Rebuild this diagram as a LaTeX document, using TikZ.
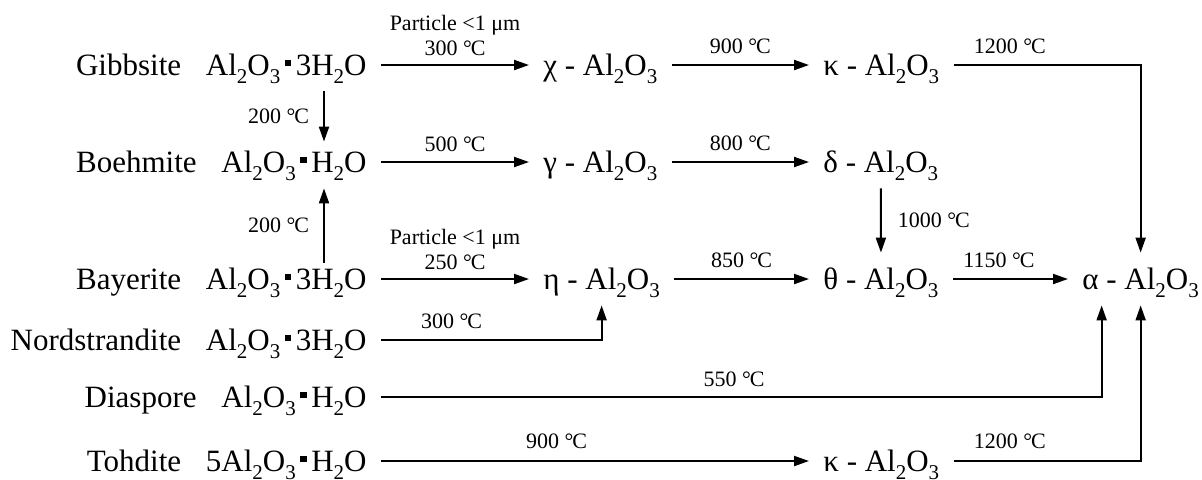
\documentclass[tikz,border=0pt]{standalone}
\usepackage{fontspec}
\setmainfont{Liberation Serif}
\usetikzlibrary{arrows.meta, positioning, calc}

\newcommand{\sub}[1]{\raisebox{-0.26em}{\fontsize{10.5}{10.5}\selectfont #1}}
\newcommand{\hdot}{\kern0.15em\rule[0.3em]{0.2em}{0.2em}\kern0.15em}
\newcommand{\degc}{°\kern-0.05em C}
\newcommand{\alu}{Al\sub{2}O\sub{3}}

\tikzset{
    chem/.style={inner xsep=7pt, inner ysep=8pt, text height=10pt, text depth=0pt, font=\fontsize{15.5}{18}\selectfont},
    mineral/.style={chem, anchor=east},
    phase/.style={chem, anchor=west},
    temp/.style={inner sep=0pt, text depth=0pt, font=\fontsize{11}{13}\selectfont},
    arrow/.style={-{Triangle[length=7.5pt, width=5pt]}, line width=1pt},
}

\begin{document}
\begin{tikzpicture}[x=0.5pt, y=-0.5pt]
\useasboundingbox (0,0) rectangle (1202,479);

% starting hydroxides
\node[mineral] (gib) at (381,65) {Gibbsite\hspace{0.8em}\alu\hdot 3H\sub{2}O};
\node[mineral] (boe) at (381,162) {Boehmite\hspace{0.8em}\alu\hdot H\sub{2}O};
\node[mineral] (bay) at (381,279) {Bayerite\hspace{0.8em}\alu\hdot 3H\sub{2}O};
\node[mineral] (nor) at (381,340) {Nordstrandite\hspace{0.8em}\alu\hdot 3H\sub{2}O};
\node[mineral] (dia) at (381,397) {Diaspore\hspace{0.8em}\alu\hdot H\sub{2}O};
\node[mineral] (toh) at (381,461) {Tohdite\hspace{0.8em}5\alu\hdot H\sub{2}O};

% transition aluminas
\node[phase] (chi) at (529,65) {χ - \alu};
\node[phase] (kap-a) at (809,65) {κ - \alu};
\node[phase] (gam) at (529,162) {γ - \alu};
\node[phase] (del) at (809,162) {δ - \alu};
\node[phase] (eta) at (529,279) {η - \alu};
\node[phase] (the) at (809,279) {θ - \alu};
\node[phase] (alp) at (1068,279) {α - \alu};
\node[phase] (kap-b) at (809,461) {κ - \alu};

\coordinate (col-a) at (324,0);

\draw[arrow] (gib.east) -- node[temp, above=4.5pt] {300 \degc} node[temp, above=17pt] {Particle <1 μm} (chi.west);
\draw[arrow] (chi.east) -- node[temp, above=5.5pt] {900 \degc} (kap-a.west);
\draw[arrow] (kap-a.east) -| node[temp, above=5.5pt, pos=0.15] {1200 \degc} (alp.north);
\draw[arrow] (gib.south -| col-a) -- node[temp, left=7pt] {200 \degc} ([yshift=-3pt]boe.north -| col-a);

\draw[arrow] (boe.east) -- node[temp, above=5pt] {500 \degc} (gam.west);
\draw[arrow] (gam.east) -- node[temp, above=5.5pt] {800 \degc} (del.west);
\draw[arrow] (del.south) -- node[temp, right=8pt] {1000 \degc} (the.north);
\draw[arrow] ([yshift=-5pt]bay.north -| col-a) -- node[temp, left=7pt] {200 \degc} (boe.south -| col-a);

\draw[arrow] (bay.east) -- node[temp, above=4.5pt] {250 \degc} node[temp, above=17pt] {Particle <1 μm} (eta.west);
\draw[arrow] (eta.east) -- node[temp, above=5.5pt] {850 \degc} (the.west);
\draw[arrow] (the.east) -- node[temp, above=5.5pt, pos=0.4] {1150 \degc} (alp.west);

\draw[arrow] (nor.east) -| node[temp, above=5.5pt, pos=0.16] {300 \degc} (eta.south);
\draw[arrow] (dia.east) -| node[temp, above=5pt, pos=0.245] {550 \degc} ([xshift=-19.5pt]alp.south);
\draw[arrow] (toh.east) -- node[temp, above=6pt, pos=0.41] {900 \degc} (kap-b.west);
\draw[arrow] (kap-b.east) -| node[temp, above=6pt, pos=0.15] {1200 \degc} (alp.south);

\end{tikzpicture}
\end{document}
